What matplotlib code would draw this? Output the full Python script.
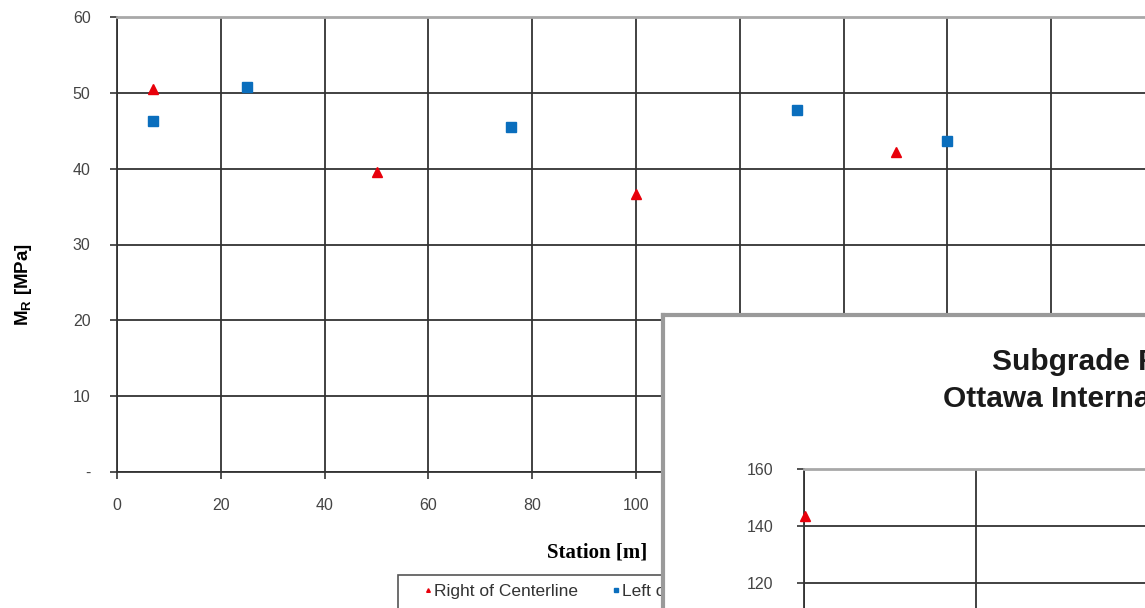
import numpy as np
import matplotlib
matplotlib.use("Agg")
import matplotlib.pyplot as plt
from matplotlib.patches import Rectangle
from matplotlib.ticker import FuncFormatter

# main chart data
right_station = [7, 50, 100, 150]
right_mr = [50.5, 39.6, 36.7, 42.2]
left_station = [7, 25, 76, 131, 160]
left_mr = [46.3, 50.8, 45.5, 47.8, 43.7]

# partly hidden second chart
inset_station = [0.3]
inset_mr = [143.5]

W, H = 1145, 608
fig = plt.figure(figsize=(W / 100, H / 100), dpi=100)
fig.patch.set_facecolor('white')

def px(x0, y0, x1, y1):
    # pixel box (top-left origin) -> figure fraction rect
    return [x0 / W, 1 - y1 / H, (x1 - x0) / W, (y1 - y0) / H]

grid_col = '#333333'
red = '#e8000b'
blue = '#0a6ebd'

ax = fig.add_axes(px(117, 17, 1155, 472))
ax.plot(right_station, right_mr, ls='none', marker='^', ms=7.5, color=red,
        label='Right of Centerline', zorder=3)
ax.plot(left_station, left_mr, ls='none', marker='s', ms=7.5, color=blue,
        label='Left of Centerline', zorder=3)
ax.set_xlim(0, 200)
ax.set_ylim(0, 60)
ax.set_xticks(np.arange(0, 201, 20))
ax.set_yticks(np.arange(0, 61, 10))
ax.yaxis.set_major_formatter(FuncFormatter(lambda v, p: '-' if v == 0 else f'{v:.0f}'))
ax.grid(True, color=grid_col, lw=1.3)
ax.set_axisbelow(True)
for s in ['left', 'bottom']:
    ax.spines[s].set_color(grid_col)
    ax.spines[s].set_linewidth(1.3)
ax.spines['top'].set_color('#a8a8a8')
ax.spines['top'].set_linewidth(2)
ax.spines['right'].set_visible(False)
ax.tick_params(direction='out', length=5, width=1.2, color=grid_col,
               labelsize=11.5, labelcolor='#444444', pad=14)
for t in ax.get_xticklabels() + ax.get_yticklabels():
    t.set_fontfamily('Liberation Sans')

fig.text(597 / W, 1 - 552 / H, 'Station [m]', ha='center', va='center',
         fontsize=15, fontweight='bold', family='Liberation Serif')
fig.text(24 / W, 1 - 285 / H, r'M$_\mathregular{R}$ [MPa]', ha='center', va='center',
         rotation=90, fontsize=13.5, fontweight='bold', family='Liberation Sans')

# legend box (its right part lies under the second chart)
ax.add_patch(Rectangle((398 / W, 1 - 640 / H), 300 / W, 65 / H,
                       transform=fig.transFigure, clip_on=False,
                       facecolor='white', edgecolor='#555555', lw=1.2, zorder=5))
leg = ax.legend(loc='center left', bbox_to_anchor=(425 / W, 1 - 591 / H),
                bbox_transform=fig.transFigure, ncol=2,
                markerscale=0.35, handlelength=0.3, handletextpad=0.2,
                columnspacing=2.05, frameon=False,
                borderpad=0, borderaxespad=0,
                prop={'family': 'Liberation Sans', 'size': 12.5})
leg.set_zorder(6)
for t in leg.get_texts():
    t.set_color('#333333')

# second chart lying on top
frame = fig.add_axes(px(663, 315, 1160, 640))
frame.set_xticks([])
frame.set_yticks([])
frame.set_facecolor('white')
for s in frame.spines.values():
    s.set_color('#9a9a9a')
    s.set_linewidth(3)

fig.text(992 / W, 1 - 362 / H, 'Subgrade Resilient Modulus', ha='left', va='center',
         fontsize=21.5, fontweight='bold', family='Liberation Sans', color='#1a1a1a')
fig.text(943 / W, 1 - 399 / H, 'Ottawa International Airport', ha='left', va='center',
         fontsize=21.5, fontweight='bold', family='Liberation Sans', color='#1a1a1a')

ax2 = fig.add_axes(px(804, 469, 1492, 925))
ax2.plot(inset_station, inset_mr, ls='none', marker='^', ms=7.5, color=red,
         clip_on=False, zorder=3)
ax2.set_xlim(0, 200)
ax2.set_ylim(0, 160)
ax2.set_xticks(np.arange(0, 201, 50))
ax2.set_yticks(np.arange(0, 161, 20))
ax2.grid(True, color=grid_col, lw=1.3)
ax2.set_axisbelow(True)
ax2.spines['left'].set_color(grid_col)
ax2.spines['left'].set_linewidth(1.3)
ax2.spines['top'].set_color('#a8a8a8')
ax2.spines['top'].set_linewidth(2)
ax2.spines['right'].set_visible(False)
ax2.spines['bottom'].set_visible(False)
ax2.tick_params(direction='out', length=5, width=1.2, color=grid_col,
                labelsize=11.5, labelcolor='#444444', pad=17)
ax2.tick_params(axis='x', labelbottom=False)
for t in ax2.get_yticklabels():
    t.set_fontfamily('Liberation Sans')

fig.savefig('out.png', dpi=100)
